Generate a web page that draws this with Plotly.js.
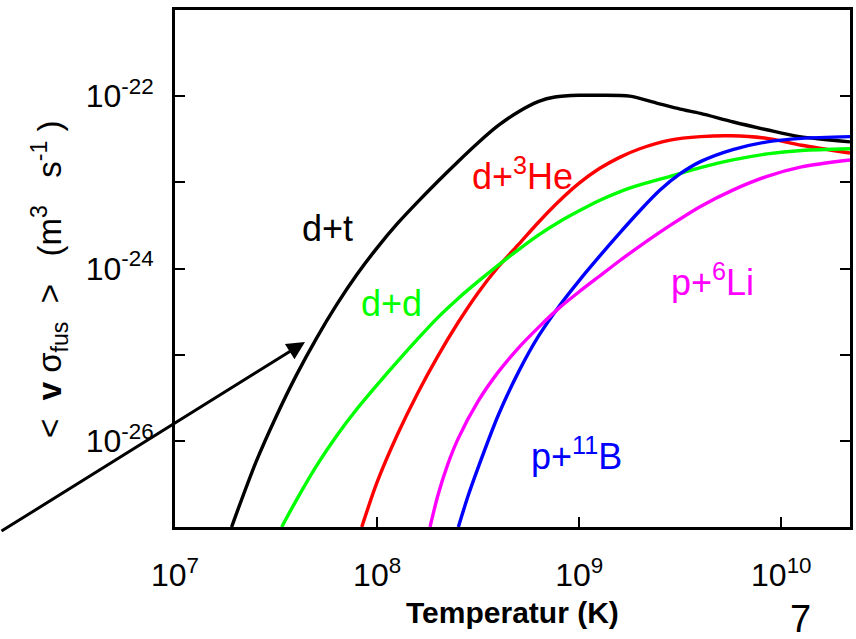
<!DOCTYPE html>
<html>
<head>
<meta charset="utf-8">
<script src="https://cdn.plot.ly/plotly-3.0.1.min.js"></script>
<style>html,body{margin:0;padding:0;background:#fff;}#chart{width:856px;height:639px;}</style>
</head>
<body>
<div id="chart"></div>
<script>
// log10(T / K) and log10(<v sigma> / m^3 s^-1)
const dtLogT = [7.28, 7.3, 7.4, 7.5, 7.6, 7.7, 7.8, 7.9, 8.0, 8.1, 8.2, 8.3, 8.4, 8.5, 8.6, 8.7, 8.8, 8.88, 9.0, 9.1, 9.25, 9.383, 9.5, 9.6, 9.763, 9.928, 10.09, 10.34];
const dtLogR = [-27.0, -26.87, -26.25, -25.72, -25.24, -24.81, -24.42, -24.07, -23.76, -23.48, -23.23, -22.99, -22.76, -22.54, -22.34, -22.18, -22.06, -22.01, -21.99, -21.99, -22.0, -22.08, -22.15, -22.2, -22.3, -22.39, -22.47, -22.53];

const dhe3LogT = [7.924, 8.0, 8.1, 8.2, 8.3, 8.4, 8.5, 8.6, 8.7, 8.8, 8.9, 9.0, 9.1, 9.2, 9.3, 9.45, 9.6, 9.75, 9.93, 10.1, 10.34];
const dhe3LogR = [-27.0, -26.48, -25.93, -25.45, -25.02, -24.63, -24.28, -23.98, -23.72, -23.46, -23.22, -23.01, -22.84, -22.71, -22.61, -22.51, -22.47, -22.46, -22.49, -22.57, -22.66];

const ddLogT = [7.528, 7.6, 7.7, 7.8, 7.9, 8.0, 8.1, 8.2, 8.3, 8.4, 8.5, 8.6, 8.7, 8.8, 8.9, 9.0, 9.1, 9.2, 9.3, 9.45, 9.6, 9.76, 9.93, 10.1, 10.34];
const ddLogR = [-27.0, -26.69, -26.29, -25.94, -25.63, -25.35, -25.08, -24.82, -24.57, -24.35, -24.15, -23.96, -23.78, -23.61, -23.46, -23.33, -23.21, -23.11, -23.03, -22.93, -22.83, -22.74, -22.67, -22.63, -22.61];

const pbLogT = [8.402, 8.45, 8.5, 8.6, 8.7, 8.8, 8.9, 9.0, 9.1, 9.2, 9.3, 9.4, 9.5, 9.6, 9.76, 9.93, 10.1, 10.34];
const pbLogR = [-27.0, -26.64, -26.31, -25.70, -25.20, -24.78, -24.44, -24.14, -23.86, -23.59, -23.33, -23.09, -22.90, -22.76, -22.62, -22.53, -22.49, -22.47];

const pliLogT = [8.262, 8.3, 8.35, 8.4, 8.5, 8.6, 8.7, 8.8, 8.9, 9.0, 9.1, 9.2, 9.3, 9.45, 9.6, 9.76, 9.93, 10.1, 10.34];
const pliLogR = [-27.0, -26.64, -26.27, -25.98, -25.54, -25.2, -24.92, -24.68, -24.46, -24.27, -24.09, -23.91, -23.74, -23.5, -23.28, -23.09, -22.93, -22.82, -22.74];

const xTickVals = [1e7, 1e8, 1e9, 1e10];
const xTickText = ['10<sup>7</sup>', '10<sup>8</sup>', '10<sup>9</sup>', '10<sup>10</sup>'];
const yTickVals = [1e-26, 1e-25, 1e-24, 1e-23, 1e-22];
const yTickText = ['10<sup>-26</sup>', '', '10<sup>-24</sup>', '', '10<sup>-22</sup>'];

const pow10 = a => a.map(v => Math.pow(10, v));

const series = [
  {T: dtLogT, R: dtLogR, color: '#000000'},
  {T: dhe3LogT, R: dhe3LogR, color: '#ff0000'},
  {T: ddLogT, R: ddLogR, color: '#00ff00'},
  {T: pbLogT, R: pbLogR, color: '#0000ff'},
  {T: pliLogT, R: pliLogR, color: '#ff00ff'}
];
const traces = series.map(s => ({
  x: pow10(s.T), y: pow10(s.R), type: 'scatter', mode: 'lines',
  line: {color: s.color, width: 3.4, shape: 'spline', smoothing: 0.8},
  hoverinfo: 'skip', showlegend: false
}));

const FONT = 'Liberation Sans, Arial, sans-serif';
const lab = (text, x, y, color) => ({text, x, y, xref: 'x', yref: 'y', showarrow: false,
  font: {family: FONT, size: 36, color}, xanchor: 'center', yanchor: 'middle'});
const S = '\u00A0';

const layout = {
  width: 856, height: 639,
  margin: {l: 175, r: 6, t: 10, b: 112},
  paper_bgcolor: '#fff', plot_bgcolor: '#fff',
  font: {family: FONT, color: '#000'},
  xaxis: {type: 'log', range: [7, 10.34], showgrid: false, zeroline: false,
    showline: true, linewidth: 3, linecolor: '#000', mirror: true,
    ticks: 'inside', ticklen: 10, tickwidth: 2, tickcolor: '#000',
    tickmode: 'array', tickvals: xTickVals, ticktext: xTickText, ticklabelstandoff: 18,
    tickfont: {family: FONT, size: 32, color: '#000'}},
  yaxis: {type: 'log', range: [-27, -21], showgrid: false, zeroline: false,
    showline: true, linewidth: 3, linecolor: '#000', mirror: 'ticks',
    ticks: 'inside', ticklen: 10, tickwidth: 2, tickcolor: '#000',
    tickmode: 'array', tickvals: yTickVals, ticktext: yTickText, ticklabelstandoff: 12,
    tickfont: {family: FONT, size: 32, color: '#000'}},
  annotations: [
    lab('d+t', 7.755, -23.54, '#000000'),
    lab('d+<sup>3</sup>He', 8.717, -22.9, '#ff0000'),
    lab('d+d', 8.071, -24.41, '#00ff00'),
    lab('p+<sup>6</sup>Li', 9.662, -24.13, '#ff00ff'),
    lab('p+<sup>11</sup>B', 8.989, -26.15, '#0000ff'),
    {text: '', x: 0.1926, y: 0.3578, xref: 'paper', yref: 'paper', showarrow: true,
      ax: -305, ay: 190, axref: 'pixel', ayref: 'pixel',
      arrowhead: 2, arrowsize: 1.2, arrowwidth: 3, arrowcolor: '#000', standoff: 0},
    {text: '&lt;' + S + S + '<b>v</b>' + S + 'σ<sub>fus</sub>' + S + S + '&gt;' + S + S + S + '(m<sup>3</sup>' + S + S + S + 's<sup>-1</sup>' + S + ')',
      x: -0.185, y: 0.48,
      xref: 'paper', yref: 'paper', showarrow: false, textangle: -90,
      xanchor: 'center', yanchor: 'middle', font: {family: FONT, size: 33, color: '#000'}},
    {text: '<b>Temperatur (K)</b>', x: 0.5, y: -0.165, xref: 'paper', yref: 'paper',
      showarrow: false, xanchor: 'center', yanchor: 'middle',
      font: {family: FONT, size: 30, color: '#000'}},
    {text: '7', x: 0.926, y: -0.178, xref: 'paper', yref: 'paper', showarrow: false,
      xanchor: 'center', yanchor: 'middle', font: {family: FONT, size: 38, color: '#000'}}
  ]
};

Plotly.newPlot('chart', traces, layout, {displayModeBar: false, staticPlot: true});
</script>
</body>
</html>
